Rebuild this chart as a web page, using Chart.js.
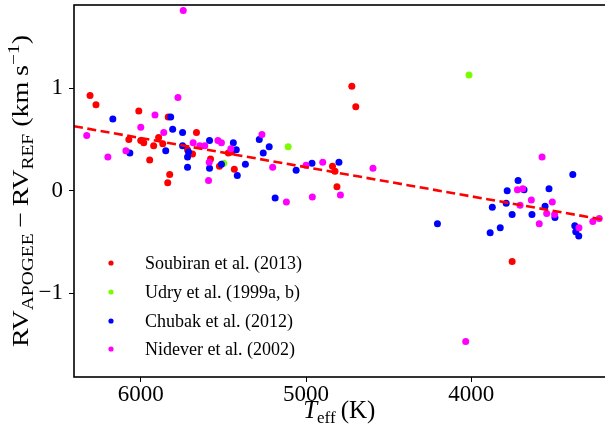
<!DOCTYPE html>
<html lang="en">
<head>
    <meta charset="UTF-8">
    <title>RV APOGEE - RV REF vs Teff</title>
    <script src="https://cdn.jsdelivr.net/npm/chart.js"></script>
    <style>
        html, body {
            margin: 0;
            padding: 0;
            background: #fff;
            overflow: hidden;
        }
        #wrap {
            width: 612px;
            height: 433px;
        }
    </style>
</head>
<body>
    <div id="wrap">
        <canvas id="rvChart" width="612" height="433"></canvas>
    </div>

    <script>
        // values
        const soubiranTeff = [6307, 6271, 6012, 5834, 5663, 6072, 6000, 5982, 5892, 5922, 5867, 5946, 5825, 5837, 5687, 5717, 5578, 5524, 5470, 5449, 5434, 4840, 4825, 4813, 4723, 4699, 3753];
        const soubiranRV = [0.93, 0.84, 0.78, 0.72, 0.57, 0.50, 0.49, 0.47, 0.52, 0.44, 0.46, 0.30, 0.16, 0.08, 0.36, 0.40, 0.31, 0.24, 0.37, 0.38, 0.21, 0.24, 0.19, 0.04, 1.02, 0.82, -0.69];

        const udryTeff = [4014, 5108, 5498];
        const udryRV = [1.13, 0.43, 0.27];

        const chubakTeff = [6169, 5819, 5807, 5747, 5747, 5711, 5717, 5717, 6066, 5849, 5584, 5584, 5512, 5440, 5422, 5367, 5416, 5283, 5259, 5223, 5060, 4964, 4801, 5187, 4205, 3386, 3717, 3783, 3681, 3530, 3789, 3873, 3753, 3633, 3554, 3494, 3886, 3825, 3374, 3368, 3350];
        const chubakRV = [0.70, 0.72, 0.60, 0.57, 0.44, 0.38, 0.33, 0.23, 0.37, 0.39, 0.49, 0.22, 0.26, 0.47, 0.40, 0.26, 0.15, 0.50, 0.37, 0.43, 0.20, 0.27, 0.28, -0.07, -0.32, 0.16, 0.10, 0.00, 0.01, 0.02, -0.12, -0.16, -0.23, -0.23, -0.15, -0.26, -0.41, -0.36, -0.34, -0.40, -0.44];

        const nideverTeff = [5743, 5775, 6327, 6199, 6090, 6000, 5914, 5861, 5683, 5643, 5613, 5533, 5512, 5586, 5590, 5455, 5267, 5202, 5000, 4899, 5119, 4962, 4792, 4595, 4034, 3572, 3721, 3689, 3637, 3705, 3510, 3544, 3496, 3589, 3349, 3265, 3226];
        const nideverRV = [1.76, 0.91, 0.54, 0.33, 0.39, 0.62, 0.74, 0.57, 0.47, 0.44, 0.44, 0.49, 0.47, 0.28, 0.10, 0.41, 0.55, 0.23, 0.25, 0.28, -0.11, -0.06, -0.04, 0.22, -1.47, 0.33, 0.01, 0.02, -0.09, -0.14, -0.11, -0.22, -0.23, -0.32, -0.36, -0.30, -0.27];

        // linear fit (dashed line), end points
        const fitTeff = [6404, 3170];
        const fitRV = [0.63, -0.29];

        const xTicks = [4000, 5000, 6000];
        const yTicks = [-1, 0, 1];

        const seriesLabels = ['Soubiran et al. (2013)', 'Udry et al. (1999a, b)', 'Chubak et al. (2012)', 'Nidever et al. (2002)'];
        const seriesColors = ['#ff0000', '#7cfc00', '#0000ff', '#ff00ff'];

        const SERIF = '"Liberation Serif", "DejaVu Serif", serif';

        function zip(xs, ys) {
            return xs.map((x, i) => ({ x: x, y: ys[i] }));
        }

        function dotSet(i, xs, ys, order) {
            return {
                label: seriesLabels[i],
                data: zip(xs, ys),
                backgroundColor: seriesColors[i],
                borderWidth: 0,
                pointRadius: 3.5,
                pointHoverRadius: 3.5,
                order: order
            };
        }

        // draws frame, axis titles (with sub/superscripts) and the legend
        const decorations = {
            id: 'decorations',
            afterDraw(chart) {
                const ctx = chart.ctx;
                const a = chart.chartArea;
                ctx.save();

                // frame
                ctx.strokeStyle = '#000';
                ctx.lineWidth = 1.6;
                ctx.strokeRect(a.left, a.top, a.right - a.left, a.bottom - a.top);

                ctx.fillStyle = '#000';
                ctx.textBaseline = 'alphabetic';

                // x title: T_eff (K)
                let parts = [
                    { t: 'T', f: 'italic 25px ' + SERIF, dy: 0 },
                    { t: 'eff', f: '17px ' + SERIF, dy: 5 },
                    { t: '\u2009(K)', f: '25px ' + SERIF, dy: 0 }
                ];
                let w = 0;
                parts.forEach(p => { ctx.font = p.f; p.w = ctx.measureText(p.t).width; w += p.w; });
                let x = (a.left + a.right) / 2 - w / 2 - 2;
                parts.forEach(p => {
                    ctx.font = p.f;
                    ctx.fillText(p.t, x, 418 + p.dy);
                    x += p.w;
                });

                // y title: RV_APOGEE - RV_REF (km s^-1)
                parts = [
                    { t: 'RV', f: '23px ' + SERIF, dy: 0 },
                    { t: 'APOGEE', f: '16px ' + SERIF, dy: 5 },
                    { t: '\u2009\u2212\u2009', f: '23px ' + SERIF, dy: 0 },
                    { t: 'RV', f: '23px ' + SERIF, dy: 0 },
                    { t: 'REF', f: '16px ' + SERIF, dy: 5 },
                    { t: ' (km\u2009s', f: '23px ' + SERIF, dy: 0 },
                    { t: '\u22121', f: '16px ' + SERIF, dy: -9 },
                    { t: ')', f: '23px ' + SERIF, dy: 0 }
                ];
                w = 0;
                parts.forEach(p => { ctx.font = p.f; p.w = ctx.measureText(p.t).width; w += p.w; });
                const target = 312;
                const sx = target / w;
                ctx.save();
                ctx.translate(28, (a.top + a.bottom) / 2);
                ctx.rotate(-Math.PI / 2);
                ctx.scale(sx, 1);
                x = -w / 2;
                parts.forEach(p => {
                    ctx.font = p.f;
                    ctx.fillText(p.t, x, p.dy);
                    x += p.w;
                });
                ctx.restore();

                // legend
                ctx.font = '18px ' + SERIF;
                ctx.textBaseline = 'middle';
                const rows = [263, 292, 321, 349];
                seriesLabels.forEach((lab, i) => {
                    ctx.fillStyle = seriesColors[i];
                    ctx.beginPath();
                    ctx.arc(111, rows[i], 2.6, 0, Math.PI * 2);
                    ctx.fill();
                    ctx.fillStyle = '#000';
                    ctx.fillText(lab, 145, rows[i] + 1);
                });

                ctx.restore();
            }
        };

        const ctx = document.getElementById('rvChart').getContext('2d');

        new Chart(ctx, {
            type: 'scatter',
            data: {
                datasets: [
                    {
                        type: 'line',
                        label: 'fit',
                        data: zip(fitTeff, fitRV),
                        borderColor: '#ff0000',
                        borderWidth: 2.6,
                        borderDash: [9, 4.5],
                        pointRadius: 0,
                        fill: false,
                        order: 0
                    },
                    dotSet(3, nideverTeff, nideverRV, 1),
                    dotSet(2, chubakTeff, chubakRV, 2),
                    dotSet(1, udryTeff, udryRV, 3),
                    dotSet(0, soubiranTeff, soubiranRV, 4)
                ]
            },
            options: {
                responsive: false,
                animation: false,
                layout: {
                    padding: { left: 0, top: 5, right: 2, bottom: 0 }
                },
                plugins: {
                    legend: { display: false },
                    tooltip: { enabled: false }
                },
                scales: {
                    x: {
                        type: 'linear',
                        reverse: true,
                        min: 3170,
                        max: 6404,
                        afterBuildTicks: (scale) => {
                            scale.ticks = xTicks.map(v => ({ value: v }));
                        },
                        afterFit: (scale) => {
                            scale.height = 56;
                            scale.paddingLeft = 0;
                            scale.paddingRight = 0;
                        },
                        grid: {
                            drawOnChartArea: false,
                            drawTicks: true,
                            tickLength: 5,
                            color: '#000',
                            lineWidth: 1
                        },
                        border: { display: false },
                        ticks: {
                            padding: -1,
                            color: '#000',
                            maxRotation: 0,
                            font: { family: SERIF, size: 23 },
                            callback: (v) => String(v)
                        }
                    },
                    y: {
                        type: 'linear',
                        min: -1.816,
                        max: 1.813,
                        afterBuildTicks: (scale) => {
                            scale.ticks = yTicks.map(v => ({ value: v }));
                        },
                        afterFit: (scale) => {
                            scale.width = 74;
                            scale.paddingTop = 0;
                            scale.paddingBottom = 0;
                        },
                        grid: {
                            drawOnChartArea: false,
                            drawTicks: true,
                            tickLength: 5,
                            color: '#000',
                            lineWidth: 1
                        },
                        border: { display: false },
                        ticks: {
                            padding: 6,
                            color: '#000',
                            font: { family: SERIF, size: 23 },
                            callback: (v) => (v < 0 ? '\u2212' + Math.abs(v) : String(v))
                        }
                    }
                }
            },
            plugins: [decorations]
        });
    </script>
</body>
</html>
